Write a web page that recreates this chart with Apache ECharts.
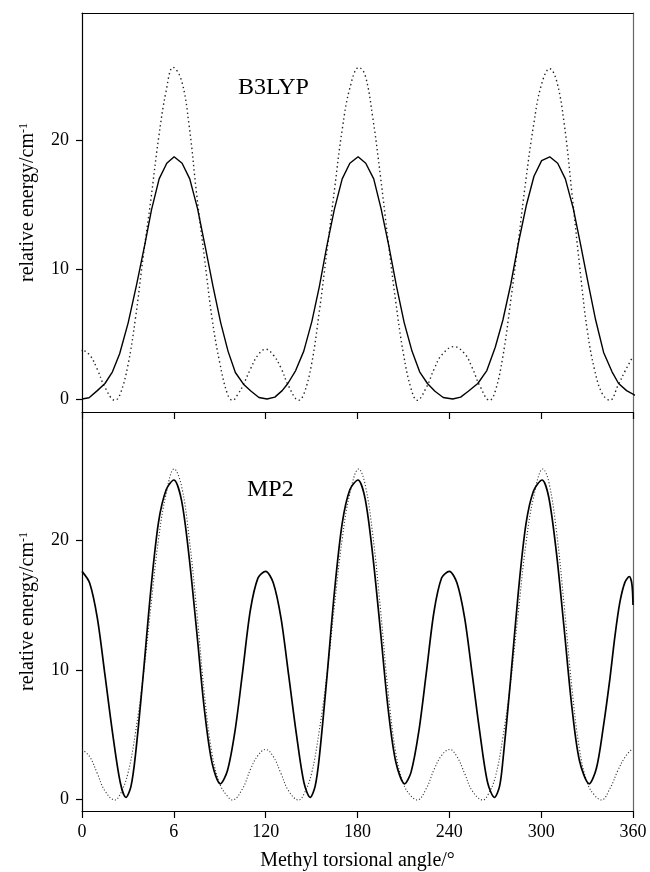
<!DOCTYPE html>
<html>
<head>
<meta charset="utf-8">
<script src="https://cdn.jsdelivr.net/npm/echarts@6/dist/echarts.min.js"></script>
<style>
  html, body { margin: 0; padding: 0; background: #fff; }
  #chart { width: 650px; height: 872px; }
</style>
</head>
<body>
<div id="chart"></div>
<script>
// tick labels as printed (the 60 tick reads "6" in the original)
var xTicks = [0, 60, 120, 180, 240, 300, 360]
var xTickLabels = ['0', '6', '120', '180', '240', '300', '360']
var yTicks = [0, 10, 20]

// B3LYP panel, solid curve (degrees / cm-1)
var b3lypX = [0, 4.6, 10, 15, 19.9, 24.6, 30.2, 35.6, 41, 45.4, 50.4, 55.4, 60.2, 65.4, 70.4, 75.5, 80.6, 85.6, 90.6, 95.4, 100.2, 105.5, 110.5, 115.6, 120.9,
  126, 130.8, 134.5, 139.6, 144.9, 150.2, 155.1, 159.8, 164.8, 170, 175, 180.4, 185.4, 190.6, 195.4, 200.5, 205.5, 210.5, 215.6, 220.6, 225.7, 230.6, 236, 242.2,
  247.4, 252.4, 258.6, 264.5, 270, 275, 280.2, 285.4, 290.4, 295.3, 300.3, 305.6, 310.8, 315.8, 321, 325.8, 330.6, 335.6, 340.8, 346.3, 350.6, 355.8, 361.2, 365.6]
var b3lypY = [0, 0.1, 0.65, 1.2, 2.1, 3.5, 5.9, 8.8, 11.9, 14.6, 17.0, 18.2, 18.7, 18.2, 17.0, 14.7, 11.7, 8.7, 5.9, 3.7, 2.05, 1.15, 0.6, 0.12, 0,
  0.15, 0.65, 1.2, 2.2, 3.7, 6.0, 8.7, 11.7, 14.6, 17.0, 18.2, 18.7, 18.2, 17.0, 14.7, 11.8, 8.7, 5.9, 3.7, 2.1, 1.2, 0.6, 0.12, 0,
  0.15, 0.6, 1.2, 2.2, 4.0, 6.1, 8.9, 12.2, 15.0, 17.2, 18.4, 18.7, 18.2, 17.0, 14.7, 11.9, 9.0, 6.1, 3.6, 2.1, 1.2, 0.65, 0.3, 0]

// B3LYP panel, dotted curve
var b3lypDotX = [-4, 0, 5, 10, 15, 21.6, 25, 30, 35, 40, 45, 50, 55, 59.5, 65, 70, 75, 80, 85, 90, 95, 98.4, 102, 105, 110, 115, 120,
  125, 130, 135, 141.6, 145, 150, 155, 160, 165, 170, 175, 180.9, 185, 190, 195, 200, 205, 210, 215, 219, 225, 230, 235, 243,
  250, 255, 260, 266.3, 270, 275, 280, 285, 290, 295, 300, 305.6, 310, 315, 320, 325, 330, 335, 340, 345, 350, 355, 359.1]
var b3lypDotY = [3.6, 3.75, 3.4, 2.3, 0.9, -0.1, 0.4, 2.6, 6.3, 11.0, 15.4, 20.1, 23.8, 25.6, 24.6, 21.1, 15.7, 10.9, 6.2, 2.8, 0.4, -0.1, 0.4, 1.0, 2.3, 3.4, 3.85,
  3.4, 2.4, 1.0, -0.1, 0.4, 2.7, 6.7, 11.4, 16.2, 20.8, 24.0, 25.6, 25.0, 21.7, 17.2, 12.2, 7.5, 3.5, 0.8, -0.1, 0.9, 2.3, 3.4, 4.05,
  3.5, 2.4, 1.0, -0.1, 0.6, 3.3, 7.5, 12.1, 16.9, 21.1, 24.2, 25.5, 24.6, 21.3, 16.0, 10.4, 5.4, 2.2, 0.4, -0.1, 1.0, 2.2, 3.1]

// MP2 panel, solid curve
var mp2X = [0, 5, 10, 15, 20, 25, 28.7, 32, 35, 40, 45, 50, 55, 60, 65, 70, 75, 80, 85, 90.4, 95, 100, 105, 110, 115, 120,
  125, 130, 135, 140, 145, 149.1, 152.3, 155, 160, 165, 170, 175, 180.3, 185, 190, 195, 200, 205, 210.8, 215, 220, 225, 230, 235, 240,
  245, 250, 255, 260, 265, 269.5, 272.8, 275, 280, 285, 290, 295, 300.6, 305, 310, 315, 320, 325, 331.4, 336.1, 340.5, 344.9, 348.2, 351.4, 354.7, 357.6, 359.3, 360]
var mp2Y = [17.6, 16.7, 14.0, 9.6, 5.1, 1.3, 0.15, 1.0, 3.5, 9.6, 16.2, 21.4, 23.9, 24.65, 23.1, 18.7, 12.9, 6.9, 2.8, 1.2, 2.2, 5.3, 9.9, 14.6, 17.1, 17.6,
  16.7, 14.0, 9.6, 5.1, 1.3, 0.15, 1.0, 3.2, 9.4, 16.1, 21.3, 23.9, 24.65, 23.2, 18.8, 13.0, 7.0, 2.9, 1.2, 2.1, 5.2, 9.8, 14.5, 17.1, 17.6,
  16.7, 14.0, 9.6, 5.1, 1.3, 0.15, 1.0, 3.0, 9.2, 15.9, 21.2, 23.8, 24.65, 23.3, 19.0, 13.2, 7.2, 3.0, 1.2, 2.4, 5.5, 9.3, 12.6, 15.2, 16.75, 17.2, 16.6, 15.0]

// MP2 panel, dotted curve
var mp2DotX = [0, 5, 10, 15, 21.5, 25, 30, 35, 40, 45, 50, 55, 60.2, 65, 70, 75, 80, 85, 90, 95, 98.3, 105, 110, 115, 120,
  125, 130, 135, 141.6, 145, 150, 155, 160, 165, 170, 175, 180.8, 185, 190, 195, 200, 205, 210, 215, 219, 225, 230, 235, 240.3,
  245, 250, 255, 262, 265, 270, 275, 280, 285, 290, 295, 301.2, 305, 310, 315, 320, 325, 330, 335, 339.4, 345, 350, 355, 359.6]
var mp2DotY = [3.85, 3.3, 2.0, 0.65, -0.05, 0.4, 2.0, 5.2, 9.5, 14.9, 20.1, 23.6, 25.5, 24.2, 20.2, 14.5, 8.1, 3.5, 1.2, 0.25, -0.05, 0.85, 2.3, 3.4, 3.85,
  3.3, 2.0, 0.65, -0.05, 0.4, 2.0, 5.3, 9.6, 15.0, 20.1, 23.6, 25.5, 24.3, 20.4, 14.7, 8.3, 3.6, 1.2, 0.25, -0.05, 0.85, 2.3, 3.4, 3.85,
  3.3, 2.0, 0.65, -0.05, 0.3, 1.7, 4.8, 9.0, 14.4, 19.7, 23.3, 25.5, 24.5, 20.7, 15.0, 8.7, 3.9, 1.3, 0.3, -0.05, 0.85, 2.2, 3.3, 3.9]

var serif = '"Liberation Serif", "Times New Roman", serif'

function pairs(xs, ys) {
  return xs.map(function (x, i) {
    return [x, ys[i]]
  })
}

function leftAxis(gridIndex, min, max, shiftUp) {
  return {
    gridIndex: gridIndex,
    type: 'value',
    position: 'left',
    min: min,
    max: max,
    splitLine: { show: false },
    axisLine: { show: true, onZero: false, lineStyle: { color: '#000', width: 1.2 } },
    axisTick: { show: true, inside: false, length: 6, customValues: yTicks, lineStyle: { color: '#000', width: 1.2 } },
    axisLabel: { customValues: yTicks, margin: 13, fontSize: 18, fontFamily: serif, color: '#000' },
    name: 'relative energy/cm{sup|-1}',
    nameLocation: 'middle',
    nameRotate: 90,
    nameGap: 44,
    nameTextStyle: {
      fontSize: 20, fontFamily: serif, color: '#000',
      padding: [0, 0, 0, shiftUp],
      rich: { sup: { fontSize: 12, fontFamily: serif, color: '#000', verticalAlign: 'top', padding: [0, 0, 8, 0] } }
    }
  }
}

function rightAxis(gridIndex, min, max) {
  return {
    gridIndex: gridIndex,
    type: 'value',
    position: 'right',
    min: min,
    max: max,
    splitLine: { show: false },
    axisLine: { show: true, onZero: false, lineStyle: { color: '#666', width: 1.2 } },
    axisTick: { show: false },
    axisLabel: { show: false }
  }
}

var chart = echarts.init(document.getElementById('chart'))

var option = {
  animation: false,
  backgroundColor: '#fff',
  grid: [
    { left: 82, top: 13, width: 551, height: 399 },
    { left: 82, top: 412, width: 551, height: 400 }
  ],
  xAxis: [
    {
      gridIndex: 0, type: 'value', position: 'bottom', min: 0, max: 360, interval: 60,
      splitLine: { show: false },
      axisLine: { show: true, onZero: false, lineStyle: { color: '#000', width: 1.2 } },
      axisTick: { show: true, inside: false, length: 7, lineStyle: { color: '#000', width: 1.2 } },
      axisLabel: { show: false }
    },
    {
      gridIndex: 0, type: 'value', position: 'top', min: 0, max: 360,
      splitLine: { show: false },
      axisLine: { show: true, onZero: false, lineStyle: { color: '#000', width: 1.2 } },
      axisTick: { show: false },
      axisLabel: { show: false }
    },
    {
      gridIndex: 1, type: 'value', position: 'bottom', min: 0, max: 360, interval: 60,
      splitLine: { show: false },
      axisLine: { show: true, onZero: false, lineStyle: { color: '#000', width: 1.2 } },
      axisTick: { show: true, inside: false, length: 7, lineStyle: { color: '#000', width: 1.2 } },
      axisLabel: {
        margin: 12, fontSize: 18, fontFamily: serif, color: '#000',
        formatter: function (v) {
          return xTickLabels[xTicks.indexOf(v)]
        }
      },
      name: 'Methyl torsional angle/°',
      nameLocation: 'middle',
      nameGap: 40,
      nameTextStyle: { fontSize: 20, fontFamily: serif, color: '#000' }
    }
  ],
  yAxis: [
    leftAxis(0, -1, 29.8, 20),
    rightAxis(0, -1, 29.8),
    leftAxis(1, -0.9, 29.9, 0),
    rightAxis(1, -0.9, 29.9)
  ],
  graphic: [
    { type: 'text', style: { x: 238, y: 88, text: 'B3LYP', font: '24px "Liberation Serif"', fill: '#000', verticalAlign: 'middle' } },
    { type: 'text', style: { x: 247, y: 490, text: 'MP2', font: '24px "Liberation Serif"', fill: '#000', verticalAlign: 'middle' } }
  ],
  series: [
    {
      type: 'line', xAxisIndex: 0, yAxisIndex: 0, data: pairs(b3lypDotX, b3lypDotY),
      showSymbol: false, smooth: 0.4, clip: false,
      lineStyle: { color: '#222', width: 1.4, type: [1.4, 3] }
    },
    {
      type: 'line', xAxisIndex: 0, yAxisIndex: 0, data: pairs(b3lypX, b3lypY),
      showSymbol: false, clip: false,
      lineStyle: { color: '#000', width: 1.4 }
    },
    {
      type: 'line', xAxisIndex: 2, yAxisIndex: 2, data: pairs(mp2DotX, mp2DotY),
      showSymbol: false, smooth: 0.4, clip: false,
      lineStyle: { color: '#333', width: 1.1, type: [1.1, 2] }
    },
    {
      type: 'line', xAxisIndex: 2, yAxisIndex: 2, data: pairs(mp2X, mp2Y),
      showSymbol: false, smooth: 0.3, clip: false,
      lineStyle: { color: '#000', width: 1.7 }
    }
  ]
}

chart.setOption(option)
</script>
</body>
</html>
